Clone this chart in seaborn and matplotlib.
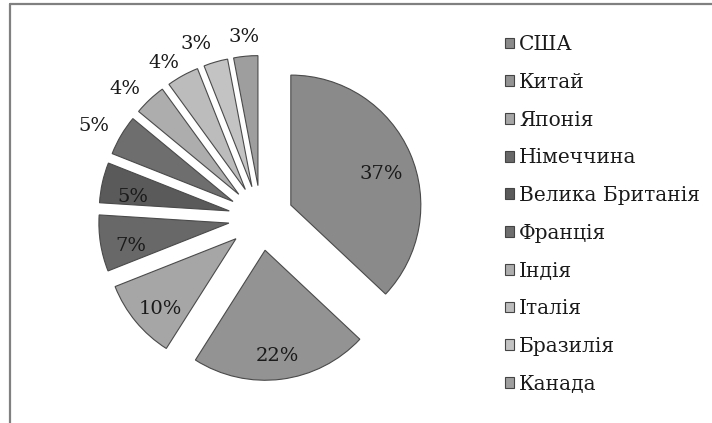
import numpy as np
import matplotlib
matplotlib.use("Agg")
import matplotlib.pyplot as plt
from matplotlib.lines import Line2D
import seaborn as sns

sns.set_theme(style="white")
plt.rcParams['font.family'] = ['DejaVu Serif', 'Liberation Serif']

# data
countries = ["США", "Китай", "Японія", "Німеччина", "Велика Британія",
             "Франція", "Індія", "Італія", "Бразилія", "Канада"]
shares = [37, 22, 10, 7, 5, 5, 4, 4, 3, 3]
greys = ["#8a8a8a", "#939393", "#a6a6a6", "#686868", "#5a5a5a",
         "#6e6e6e", "#adadad", "#bcbcbc", "#c3c3c3", "#9e9e9e"]

W, H = 712, 423
fig = plt.figure(figsize=(W / 100, H / 100), dpi=100)

# pie axes: 1 data unit = 130 px, centre at (261, 218) px from top-left
R = 130
cx, cy = 261, 218
ax = fig.add_axes([(cx - 1.5 * R) / W, (H - cy - 1.5 * R) / H, 3 * R / W, 3 * R / H])

wedges, texts, autotexts = ax.pie(
    shares, colors=greys, startangle=90, counterclock=False,
    explode=[0.25] * len(shares), radius=1,
    autopct="%d%%", pctdistance=0.76,
    wedgeprops=dict(edgecolor="#4a4a4a", linewidth=0.8),
    textprops=dict(fontsize=14, color="#1a1a1a"),
)

# inner labels sit a little low, like the old-style figures of the original
for t in autotexts[:5]:
    x, y = t.get_position()
    t.set_position((x, y - 0.06))

# small slices get their labels outside (Excel best fit)
nudge = [2, 4, 4, 5, 0]
dist = [1.22, 1.19, 1.16, 1.18, 1.15]
for w, t, da, r in zip(wedges[5:], autotexts[5:], nudge, dist):
    ang = np.deg2rad((w.theta1 + w.theta2) / 2 + da)
    x0, y0 = w.center
    t.set_position((x0 + r * np.cos(ang), y0 + r * np.sin(ang)))

ax.set_xlim(-1.5, 1.5)
ax.set_ylim(-1.5, 1.5)
ax.set_aspect("equal")
ax.axis("off")

leg = fig.legend(wedges, countries, loc="upper left",
                 bbox_to_anchor=(487 / W, 1 - 17 / H),
                 frameon=False, fontsize=14.5, handlelength=0.45, handleheight=0.45,
                 handletextpad=0.25, labelspacing=0.93)
for h in leg.legend_handles:
    h.set_edgecolor("#444444")
for t in leg.get_texts():
    t.set_color("#1a1a1a")

# chart frame (only top and left edges visible)
fig.add_artist(Line2D([10 / W, 10 / W], [0, 1 - 4 / H], color="#808080", lw=1.6))
fig.add_artist(Line2D([10 / W, 1], [1 - 4 / H, 1 - 4 / H], color="#808080", lw=1.6))

fig.savefig("out.png", dpi=100)
